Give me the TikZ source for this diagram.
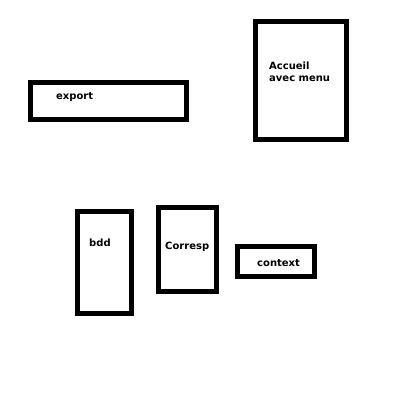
\documentclass[tikz,border=0pt]{standalone}
\usepackage{fontspec}
\setmainfont{DejaVu Sans}
\usepackage{tikz}
\tikzstyle{bloc} = [draw=black, line width=4.7pt, rectangle, inner sep=0pt, fill=white]
\tikzstyle{titre} = [anchor=base west, inner sep=0pt, font=\fontsize{10}{12}\selectfont\bfseries]

\begin{document}
\begin{tikzpicture}[x=1pt, y=-1pt]
        \useasboundingbox (0,0) rectangle (400,417);
        % les blocs
        \node [bloc, minimum width=156pt, minimum height=37pt] (export) at (108.6,100.9) {};
        \node [bloc, minimum width=91.3pt, minimum height=118pt] (accueil) at (301,80.7) {};
        \node [bloc, minimum width=54.3pt, minimum height=102pt] (bdd) at (104.5,262.3) {};
        \node [bloc, minimum width=58pt, minimum height=84.3pt] (corresp) at (187.3,249.5) {};
        \node [bloc, minimum width=77pt, minimum height=30.3pt] (context) at (275.8,261.5) {};
        % les textes
        \node [titre] (exporttxt) at (56,99.5) {export};
        \node [titre] (accueiltxt) at (269,69.5) {Accueil};
        \node [titre] (menutxt) at (269,81.5) {avec menu};
        \node [titre] (bddtxt) at (89,246) {bdd};
        \node [titre] (corresptxt) at (165,249) {Corresp};
        \node [titre] (contexttxt) at (257,266) {context};
    \end{tikzpicture}
\end{document}
